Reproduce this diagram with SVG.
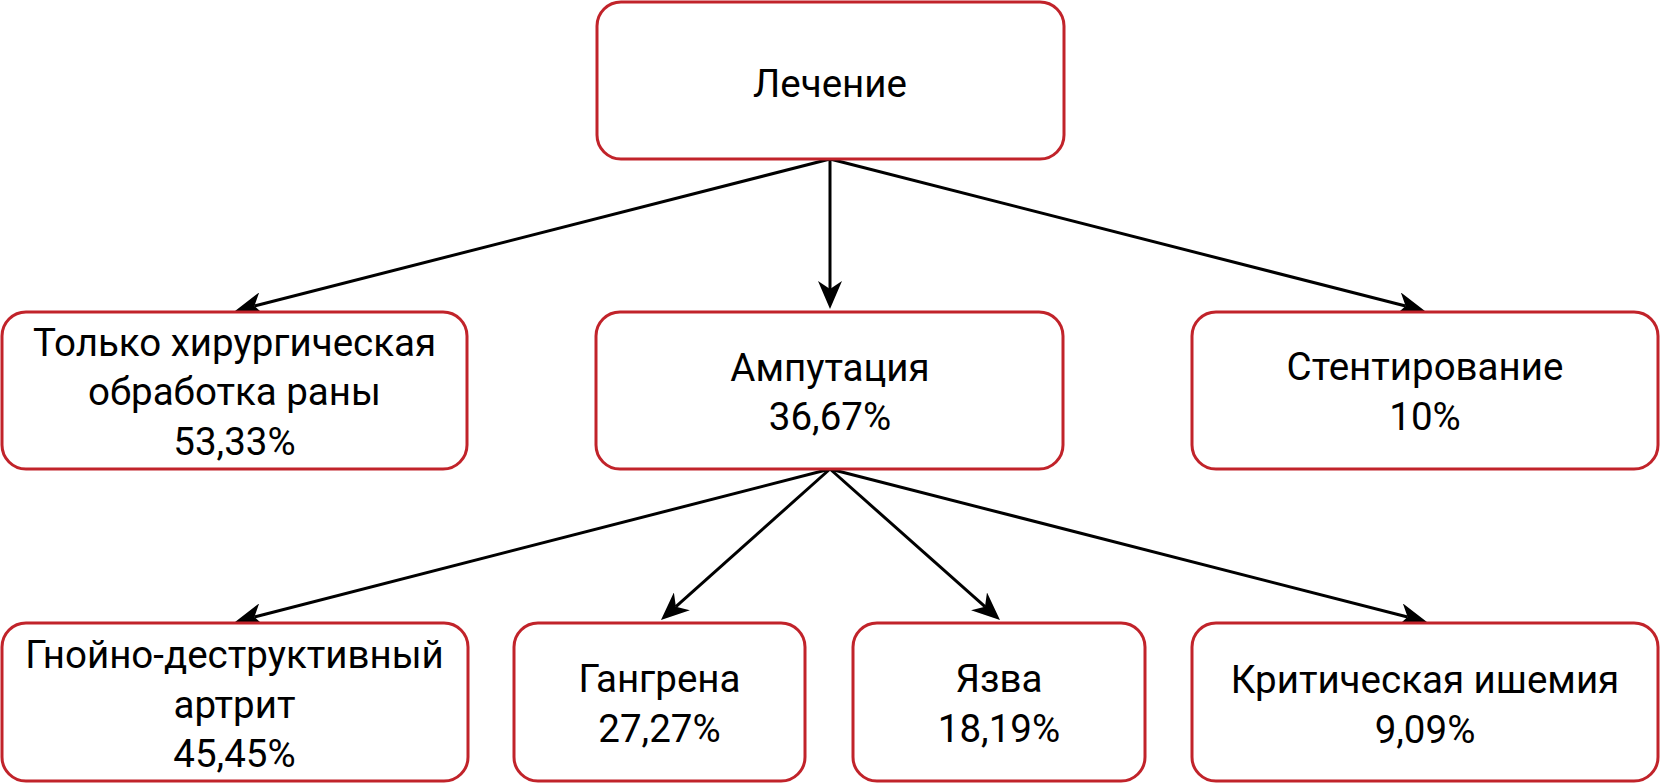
<svg xmlns="http://www.w3.org/2000/svg" width="1660" height="783" viewBox="0 0 1660 783">
<style>
.box{fill:#fff;stroke:#c1232a;stroke-width:3}
.t{font-family:Roboto,"Open Sans",sans-serif;font-size:38.5px;fill:#000;text-anchor:middle}
.c{stroke:#000;stroke-width:3;fill:none;marker-end:url(#ah)}
</style>
<defs>
<marker id="ah" markerUnits="userSpaceOnUse" viewBox="0 0 28 24" refX="8" refY="12" markerWidth="28" markerHeight="24" orient="auto">
<path d="M0,0 L28,12 L0,24 L8,12 Z" fill="#000"/>
</marker>
</defs>
<rect width="1660" height="783" fill="#fff"/>
<g id="connectors">
<line class="c" x1="830" y1="159" x2="254.4" y2="306"/>
<line class="c" x1="830" y1="159" x2="830" y2="289"/>
<line class="c" x1="830" y1="159" x2="1405.6" y2="306"/>
<line class="c" x1="830" y1="469" x2="254.4" y2="617"/>
<line class="c" x1="830" y1="469" x2="675.9" y2="606.7"/>
<line class="c" x1="830" y1="469" x2="985" y2="606.7"/>
<line class="c" x1="830" y1="469" x2="1407.6" y2="617"/>
</g>
<g id="n-lechenie">
<rect class="box" x="597" y="2" width="467" height="157" rx="24"/>
<text class="t" x="830" y="97">Лечение</text>
</g>
<g id="n-tolko">
<rect class="box" x="2" y="312" width="465" height="157" rx="24"/>
<text class="t" x="234.5" y="356">Только хирургическая</text>
<text class="t" x="234.5" y="405">обработка раны</text>
<text class="t" x="234.5" y="455">53,33%</text>
</g>
<g id="n-amputacia">
<rect class="box" x="596" y="312" width="467" height="157" rx="24"/>
<text class="t" x="830" y="381">Ампутация</text>
<text class="t" x="830" y="430">36,67%</text>
</g>
<g id="n-stent">
<rect class="box" x="1192" y="312" width="466" height="157" rx="24"/>
<text class="t" x="1425" y="380">Стентирование</text>
<text class="t" x="1425" y="430">10%</text>
</g>
<g id="n-gnoino">
<rect class="box" x="2" y="623" width="466" height="158" rx="24"/>
<text class="t" x="234.5" y="668">Гнойно-деструктивный</text>
<text class="t" x="234.5" y="718">артрит</text>
<text class="t" x="234.5" y="767">45,45%</text>
</g>
<g id="n-gangrena">
<rect class="box" x="514" y="623" width="291" height="158" rx="24"/>
<text class="t" x="659.5" y="692">Гангрена</text>
<text class="t" x="659.5" y="742">27,27%</text>
</g>
<g id="n-yazva">
<rect class="box" x="853" y="623" width="292" height="158" rx="24"/>
<text class="t" x="999" y="692">Язва</text>
<text class="t" x="999" y="742">18,19%</text>
</g>
<g id="n-ishemia">
<rect class="box" x="1192" y="623" width="466" height="158" rx="24"/>
<text class="t" x="1425" y="693">Критическая ишемия</text>
<text class="t" x="1425" y="743">9,09%</text>
</g>
</svg>
